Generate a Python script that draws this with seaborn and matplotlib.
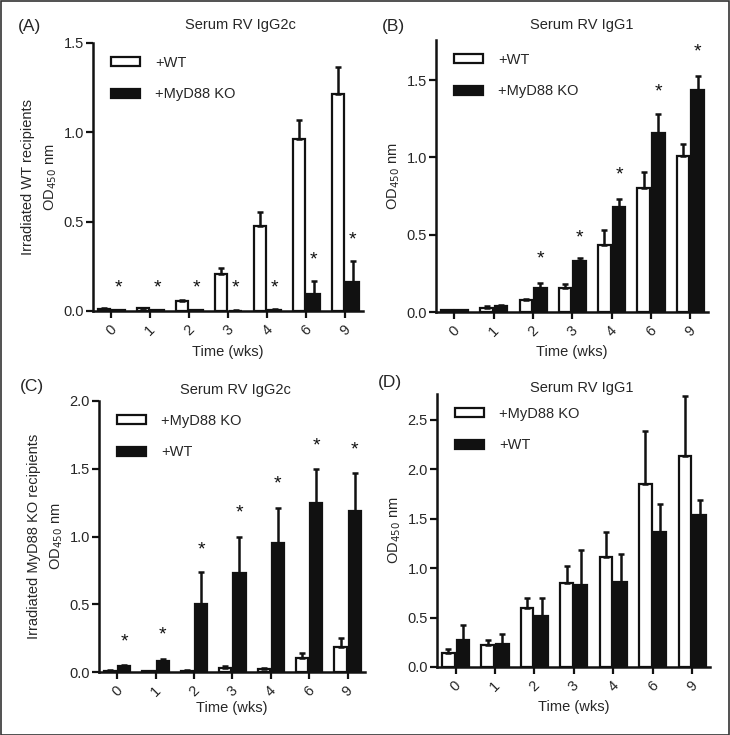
import numpy as np
import pandas as pd
import matplotlib
matplotlib.use("Agg")
import matplotlib.pyplot as plt
import seaborn as sns
from matplotlib.patches import Rectangle

sns.set_theme(style="ticks")
plt.rcParams['font.family'] = ['Liberation Sans', 'DejaVu Sans']

weeks = ["0", "1", "2", "3", "4", "6", "9"]

# Panel A: Serum RV IgG2c, irradiated WT recipients
a_wt = [0.010, 0.015, 0.056, 0.205, 0.474, 0.965, 1.213]
a_wt_err = [0.004, 0.004, 0.005, 0.035, 0.080, 0.105, 0.153]
a_ko = [0.005, 0.003, 0.003, 0.002, 0.007, 0.093, 0.162]
a_ko_err = [0.002, 0.001, 0.001, 0.001, 0.003, 0.073, 0.118]
a_star = [0.13, 0.13, 0.13, 0.13, 0.13, 0.287, 0.40]

# Panel B: Serum RV IgG1, irradiated WT recipients
b_wt = [0.010, 0.028, 0.076, 0.158, 0.432, 0.805, 1.008]
b_wt_err = [0.003, 0.012, 0.006, 0.022, 0.098, 0.102, 0.082]
b_ko = [0.012, 0.039, 0.158, 0.330, 0.680, 1.159, 1.435]
b_ko_err = [0.003, 0.008, 0.032, 0.022, 0.052, 0.121, 0.092]
b_star = [None, None, 0.345, 0.48, 0.885, 1.425, 1.685]

# Panel C: Serum RV IgG2c, irradiated MyD88 KO recipients
c_ko = [0.010, 0.005, 0.010, 0.030, 0.025, 0.103, 0.185]
c_ko_err = [0.003, 0.002, 0.003, 0.012, 0.007, 0.040, 0.065]
c_wt = [0.042, 0.084, 0.500, 0.727, 0.953, 1.244, 1.187]
c_wt_err = [0.008, 0.011, 0.239, 0.271, 0.254, 0.251, 0.279]
c_star = [0.22, 0.276, 0.90, 1.17, 1.39, 1.67, 1.64]

# Panel D: Serum RV IgG1, irradiated MyD88 KO recipients
d_ko = [0.145, 0.220, 0.598, 0.845, 1.108, 1.850, 2.138]
d_ko_err = [0.041, 0.050, 0.095, 0.179, 0.260, 0.540, 0.598]
d_wt = [0.270, 0.230, 0.517, 0.828, 0.861, 1.368, 1.537]
d_wt_err = [0.152, 0.100, 0.176, 0.352, 0.284, 0.277, 0.153]
d_star = [None] * 7

W, H = 730, 735
FS = 10.5
fig = plt.figure(figsize=(W / 100, H / 100), dpi=100)


def px_ax(l, r, b, t):
    return fig.add_axes([l / W, 1 - b / H, (r - l) / W, (b - t) / H])


def panel(ax, first, first_v, first_e, second, second_v, second_e, stars,
          ylim, yticks, ylabel, title, tag, title_xy, tag_xy, xpad):
    df = pd.DataFrame({
        "Time": weeks * 2,
        "group": [first] * 7 + [second] * 7,
        "value": list(first_v) + list(second_v),
    })
    sns.barplot(data=df, x="Time", y="value", hue="group", order=weeks,
                hue_order=[first, second],
                palette={first: "white", second: "#111111"},
                edgecolor="#111111", linewidth=1.6, width=0.74, gap=0.14,
                errorbar=None, ax=ax)
    bar_conts = list(ax.containers[:2])
    errs = [first_e, second_e]
    for ci, cont in enumerate(bar_conts):
        for bi, bar in enumerate(cont.patches):
            xc = bar.get_x() + bar.get_width() / 2
            top = bar.get_height()
            ax.errorbar(xc, top, yerr=[[0], [errs[ci][bi]]], fmt="none",
                        ecolor="#111111", elinewidth=1.8, capsize=2.2,
                        capthick=1.8, zorder=1)
    sec = bar_conts[1].patches
    for bi, s in enumerate(stars):
        if s is None:
            continue
        bar = sec[bi]
        xc = bar.get_x() + bar.get_width() / 2
        ax.text(xc, s, "*", ha="center", va="center", fontsize=14,
                color="#111111")
    ax.set_ylim(*ylim)
    ax.set_xlim(-0.47, 6.45)
    ax.set_yticks(yticks)
    ax.set_yticklabels([f"{v:.1f}" for v in yticks], fontsize=FS)
    ax.set_xticks(range(7))
    ax.set_xticklabels(weeks, rotation=45, ha="center", fontsize=FS)
    ax.tick_params(axis="both", width=1.6, length=5, color="#111111",
                   pad=1.5)
    ax.tick_params(axis="x", pad=3.5)
    for sp in ["top", "right"]:
        ax.spines[sp].set_visible(False)
    for sp in ["left", "bottom"]:
        ax.spines[sp].set_linewidth(1.8)
        ax.spines[sp].set_color("#111111")
    ax.set_xlabel("Time (wks)", fontsize=FS, labelpad=xpad)
    ax.set_ylabel(ylabel, fontsize=FS, multialignment="center", labelpad=3,
                  linespacing=1.6)
    ax.legend(loc="upper left", bbox_to_anchor=(0.035, 0.985),
              frameon=False, fontsize=FS, handlelength=2.0,
              handleheight=0.55, labelspacing=1.2, handletextpad=1.0,
              borderaxespad=0.2)
    fig.text(title_xy[0] / W, 1 - title_xy[1] / H, title, ha="center",
             va="center", fontsize=FS)
    fig.text(tag_xy[0] / W, 1 - tag_xy[1] / H, tag, ha="left",
             va="center", fontsize=12.5)


axA = px_ax(93, 363, 311, 43)
panel(axA, "+WT", a_wt, a_wt_err, "+MyD88 KO", a_ko, a_ko_err, a_star,
      (0, 1.5), [0.0, 0.5, 1.0, 1.5],
      "Irradiated WT recipients\nOD$_{450}$ nm", "Serum RV IgG2c", "(A)",
      (240, 25), (18, 26), 5.0)

axB = px_ax(436, 708, 312, 40)
panel(axB, "+WT", b_wt, b_wt_err, "+MyD88 KO", b_ko, b_ko_err, b_star,
      (0, 1.76), [0.0, 0.5, 1.0, 1.5],
      "OD$_{450}$ nm", "Serum RV IgG1", "(B)",
      (582, 25), (382, 26), 4.0)

axC = px_ax(99, 365, 672, 401)
panel(axC, "+MyD88 KO", c_ko, c_ko_err, "+WT", c_wt, c_wt_err, c_star,
      (0, 2.0), [0.0, 0.5, 1.0, 1.5, 2.0],
      "Irradiated MyD88 KO recipients\nOD$_{450}$ nm", "Serum RV IgG2c",
      "(C)", (235, 390), (20, 386), 1.0)

axD = px_ax(437, 710, 667, 394)
panel(axD, "+MyD88 KO", d_ko, d_ko_err, "+WT", d_wt, d_wt_err, d_star,
      (0, 2.76), [0.0, 0.5, 1.0, 1.5, 2.0, 2.5],
      "OD$_{450}$ nm", "Serum RV IgG1", "(D)",
      (582, 388), (378, 382), 4.0)

fig.patches.append(Rectangle((0.5 / W, 0.5 / H), 1 - 1.5 / W, 1 - 1.5 / H,
                             transform=fig.transFigure, fill=False,
                             edgecolor="#333333", linewidth=1.2))

fig.savefig("out.png", dpi=100)
